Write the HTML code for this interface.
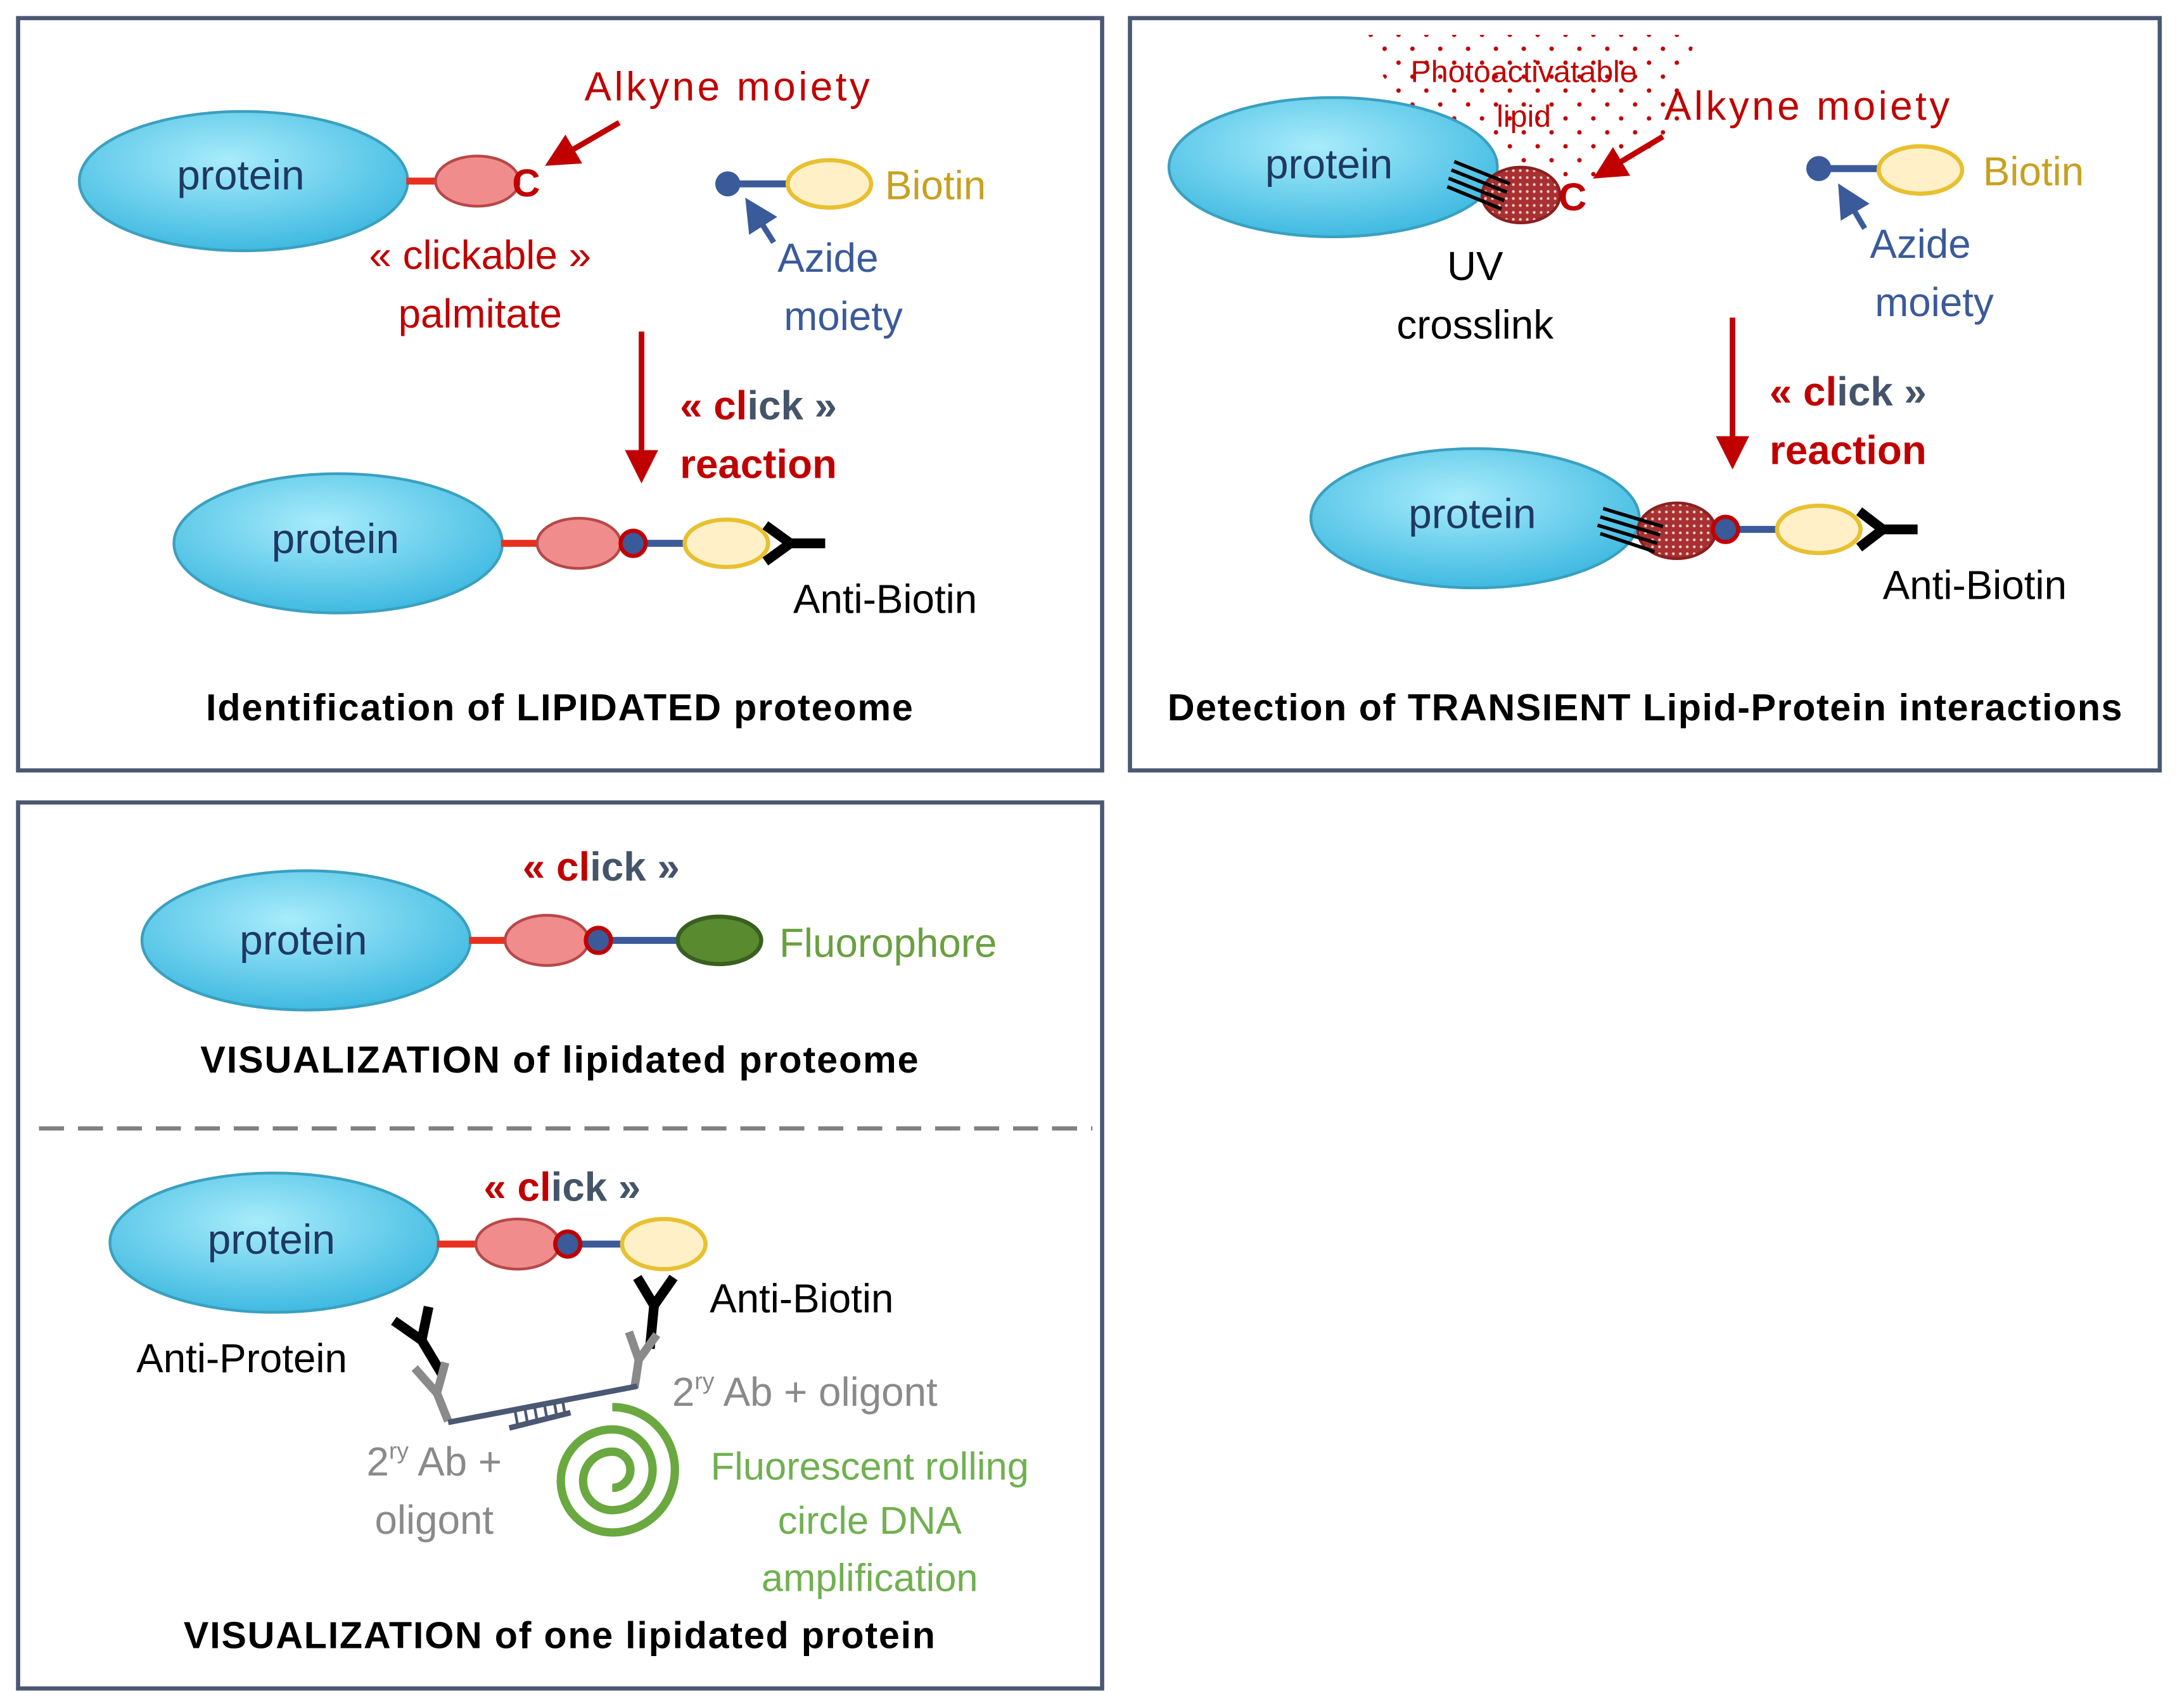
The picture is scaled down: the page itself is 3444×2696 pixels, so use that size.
<!DOCTYPE html>
<html><head><meta charset="utf-8"><style>html,body{margin:0;padding:0;background:#fff}svg{display:block}</style></head><body>
<svg width="3444" height="2696" viewBox="0 0 1568 1226" preserveAspectRatio="none" xmlns="http://www.w3.org/2000/svg" font-family="Liberation Sans, sans-serif">
<defs>
<radialGradient id="pg" cx="0.45" cy="0.35" r="0.7"><stop offset="0" stop-color="#a8ecfb"/><stop offset="1" stop-color="#38b6df"/></radialGradient>
<pattern id="dots" width="20" height="20" patternUnits="userSpaceOnUse"><circle cx="5" cy="5" r="1.6" fill="#c00000"/><circle cx="15" cy="15" r="1.6" fill="#c00000"/></pattern>
<pattern id="fine" width="5" height="5" patternUnits="userSpaceOnUse"><rect width="5" height="5" fill="#a83030"/><circle cx="2.5" cy="2.5" r="1" fill="#f4d0d0"/></pattern>
<marker id="ar" markerWidth="6" markerHeight="6" refX="3" refY="3" orient="auto"><path d="M0,0 L6,3 L0,6 Z" fill="#c00000"/></marker>
<marker id="ab" markerWidth="6" markerHeight="6" refX="3" refY="3" orient="auto"><path d="M0,0 L6,3 L0,6 Z" fill="#3a5a9a"/></marker>
</defs>
<g fill="#fff" stroke="#4b5874" stroke-width="3">
<rect x="13" y="13" width="779" height="540"/>
<rect x="812" y="13" width="740" height="540"/>
<rect x="13" y="576" width="779" height="636"/>
</g>

<!-- Panel 1 -->
<ellipse cx="175" cy="130" rx="118" ry="50" fill="url(#pg)" stroke="#3aa0c0" stroke-width="2"/>
<text x="173" y="136" font-size="30" fill="#1f3864" text-anchor="middle">protein</text>
<line x1="292" y1="130" x2="315" y2="130" stroke="#e83020" stroke-width="5"/>
<ellipse cx="343" cy="130" rx="30" ry="18" fill="#f08c8c" stroke="#b84848" stroke-width="2"/>
<text x="368" y="141" font-size="28" font-weight="bold" fill="#c00000">C</text>
<line x1="445" y1="88" x2="402" y2="113" stroke="#c00000" stroke-width="4" marker-end="url(#ar)"/>
<text x="420" y="72" font-size="29" fill="#c00000" textLength="205">Alkyne moiety</text>
<text x="345" y="193" font-size="29" fill="#c00000" text-anchor="middle">« clickable »</text>
<text x="345" y="235" font-size="29" fill="#c00000" text-anchor="middle">palmitate</text>
<line x1="523" y1="132" x2="566" y2="132" stroke="#3a5a9a" stroke-width="5"/>
<circle cx="523" cy="132" r="9" fill="#3a5a9a"/>
<ellipse cx="596" cy="132" rx="30" ry="17" fill="#fff0c8" stroke="#e8c030" stroke-width="3"/>
<text x="636" y="143" font-size="29" fill="#c8a020">Biotin</text>
<line x1="556" y1="174" x2="542" y2="152" stroke="#3a5a9a" stroke-width="4" marker-end="url(#ab)"/>
<text x="595" y="195" font-size="29" fill="#3a5a9a" text-anchor="middle">Azide</text>
<text x="606" y="237" font-size="29" fill="#3a5a9a" text-anchor="middle">moiety</text>
<line x1="461" y1="238" x2="461" y2="335" stroke="#c00000" stroke-width="4" marker-end="url(#ar)"/>
<text x="545" y="301" font-size="29" font-weight="bold" text-anchor="middle"><tspan fill="#c00000">« cl</tspan><tspan fill="#44546a">ick »</tspan></text>
<text x="545" y="343" font-size="29" font-weight="bold" fill="#c00000" text-anchor="middle">reaction</text>
<ellipse cx="243" cy="390" rx="118" ry="50" fill="url(#pg)" stroke="#3aa0c0" stroke-width="2"/>
<text x="241" y="397" font-size="30" fill="#1f3864" text-anchor="middle">protein</text>
<line x1="360" y1="390" x2="388" y2="390" stroke="#e83020" stroke-width="5"/>
<ellipse cx="416" cy="390" rx="30" ry="18" fill="#f08c8c" stroke="#b84848" stroke-width="2"/>
<line x1="455" y1="390" x2="495" y2="390" stroke="#3a5a9a" stroke-width="5"/>
<circle cx="455" cy="390" r="9" fill="#3a5a9a" stroke="#c00000" stroke-width="3"/>
<ellipse cx="522" cy="390" rx="30" ry="17" fill="#fff0c8" stroke="#e8c030" stroke-width="3"/>
<path d="M550,377 L568,390 L550,403 M568,390 L593,390" fill="none" stroke="#000" stroke-width="7"/>
<text x="570" y="440" font-size="29" fill="#000">Anti-Biotin</text>
<text x="402" y="517" font-size="27" font-weight="bold" text-anchor="middle" textLength="508">Identification of LIPIDATED proteome</text>

<!-- Panel 2 -->
<polygon points="975,25 1218,25 1205,95 1140,135 1075,120 1010,80" fill="url(#dots)"/>
<text x="1095" y="59" font-size="22" fill="#c00000" text-anchor="middle">Photoactivatable</text>
<text x="1095" y="91" font-size="22" fill="#c00000" text-anchor="middle">lipid</text>
<ellipse cx="958" cy="120" rx="118" ry="50" fill="url(#pg)" stroke="#3aa0c0" stroke-width="2"/>
<text x="955" y="128" font-size="30" fill="#1f3864" text-anchor="middle">protein</text>
<ellipse cx="1093" cy="140" rx="28" ry="20" fill="url(#fine)" stroke="#8a2020" stroke-width="2"/>
<g stroke="#000" stroke-width="2.5"><line x1="1045" y1="116" x2="1085" y2="132"/><line x1="1043" y1="122" x2="1083" y2="138"/><line x1="1041" y1="128" x2="1081" y2="144"/><line x1="1040" y1="134" x2="1079" y2="150"/></g>
<text x="1120" y="151" font-size="28" font-weight="bold" fill="#c00000">C</text>
<line x1="1195" y1="98" x2="1155" y2="122" stroke="#c00000" stroke-width="4" marker-end="url(#ar)"/>
<text x="1196" y="86" font-size="29" fill="#c00000" textLength="205">Alkyne moiety</text>
<line x1="1307" y1="121" x2="1350" y2="121" stroke="#3a5a9a" stroke-width="5"/>
<circle cx="1307" cy="121" r="9" fill="#3a5a9a"/>
<ellipse cx="1380" cy="122" rx="30" ry="17" fill="#fff0c8" stroke="#e8c030" stroke-width="3"/>
<text x="1425" y="133" font-size="29" fill="#c8a020">Biotin</text>
<line x1="1340" y1="164" x2="1327" y2="142" stroke="#3a5a9a" stroke-width="4" marker-end="url(#ab)"/>
<text x="1380" y="185" font-size="29" fill="#3a5a9a" text-anchor="middle">Azide</text>
<text x="1390" y="227" font-size="29" fill="#3a5a9a" text-anchor="middle">moiety</text>
<text x="1060" y="201" font-size="29" fill="#000" text-anchor="middle">UV</text>
<text x="1060" y="243" font-size="29" fill="#000" text-anchor="middle">crosslink</text>
<line x1="1245" y1="228" x2="1245" y2="325" stroke="#c00000" stroke-width="4" marker-end="url(#ar)"/>
<text x="1328" y="291" font-size="29" font-weight="bold" text-anchor="middle"><tspan fill="#c00000">« cl</tspan><tspan fill="#44546a">ick »</tspan></text>
<text x="1328" y="333" font-size="29" font-weight="bold" fill="#c00000" text-anchor="middle">reaction</text>
<ellipse cx="1060" cy="372" rx="118" ry="50" fill="url(#pg)" stroke="#3aa0c0" stroke-width="2"/>
<text x="1058" y="379" font-size="30" fill="#1f3864" text-anchor="middle">protein</text>
<ellipse cx="1205" cy="381" rx="28" ry="20" fill="url(#fine)" stroke="#8a2020" stroke-width="2"/>
<g stroke="#000" stroke-width="2.5"><line x1="1152" y1="365" x2="1195" y2="378"/><line x1="1150" y1="371" x2="1193" y2="384"/><line x1="1148" y1="377" x2="1191" y2="390"/><line x1="1150" y1="383" x2="1189" y2="396"/></g>
<line x1="1240" y1="380" x2="1280" y2="380" stroke="#3a5a9a" stroke-width="5"/>
<circle cx="1240" cy="380" r="9" fill="#3a5a9a" stroke="#c00000" stroke-width="3"/>
<ellipse cx="1307" cy="380" rx="30" ry="17" fill="#fff0c8" stroke="#e8c030" stroke-width="3"/>
<path d="M1336,367 L1353,380 L1336,393 M1353,380 L1378,380" fill="none" stroke="#000" stroke-width="7"/>
<text x="1353" y="430" font-size="29" fill="#000">Anti-Biotin</text>
<text x="1182" y="517" font-size="27" font-weight="bold" text-anchor="middle" textLength="686">Detection of TRANSIENT Lipid-Protein interactions</text>

<!-- Panel 3 -->
<text x="432" y="632" font-size="29" font-weight="bold" text-anchor="middle"><tspan fill="#c00000">« cl</tspan><tspan fill="#44546a">ick »</tspan></text>
<ellipse cx="220" cy="675" rx="118" ry="50" fill="url(#pg)" stroke="#3aa0c0" stroke-width="2"/>
<text x="218" y="685" font-size="30" fill="#1f3864" text-anchor="middle">protein</text>
<line x1="337" y1="675" x2="365" y2="675" stroke="#e83020" stroke-width="5"/>
<ellipse cx="393" cy="675" rx="30" ry="18" fill="#f08c8c" stroke="#b84848" stroke-width="2"/>
<line x1="430" y1="675" x2="490" y2="675" stroke="#3a5a9a" stroke-width="5"/>
<circle cx="430" cy="675" r="9" fill="#3a5a9a" stroke="#c00000" stroke-width="3"/>
<ellipse cx="517" cy="675" rx="30" ry="17" fill="#5a8a30" stroke="#3a6020" stroke-width="3"/>
<text x="560" y="687" font-size="29" fill="#6aa040">Fluorophore</text>
<text x="402" y="770" font-size="27" font-weight="bold" text-anchor="middle" textLength="516">VISUALIZATION of lipidated proteome</text>
<line x1="28" y1="810" x2="785" y2="810" stroke="#808080" stroke-width="3" stroke-dasharray="18,10"/>
<text x="404" y="862" font-size="29" font-weight="bold" text-anchor="middle"><tspan fill="#c00000">« cl</tspan><tspan fill="#44546a">ick »</tspan></text>
<ellipse cx="197" cy="892" rx="118" ry="50" fill="url(#pg)" stroke="#3aa0c0" stroke-width="2"/>
<text x="195" y="900" font-size="30" fill="#1f3864" text-anchor="middle">protein</text>
<line x1="314" y1="893" x2="342" y2="893" stroke="#e83020" stroke-width="5"/>
<ellipse cx="372" cy="893" rx="30" ry="18" fill="#f08c8c" stroke="#b84848" stroke-width="2"/>
<line x1="408" y1="893" x2="450" y2="893" stroke="#3a5a9a" stroke-width="5"/>
<circle cx="408" cy="893" r="9" fill="#3a5a9a" stroke="#c00000" stroke-width="3"/>
<ellipse cx="477" cy="893" rx="30" ry="18" fill="#fff0c8" stroke="#e8c030" stroke-width="3"/>
<path d="M458,917 L470,937 L484,917 M470,937 L467,968" fill="none" stroke="#000" stroke-width="7"/>
<text x="510" y="942" font-size="29" fill="#000">Anti-Biotin</text>
<path d="M283,948 L303,962 L308,938 M303,962 L318,987" fill="none" stroke="#000" stroke-width="7"/>
<text x="98" y="985" font-size="29" fill="#000">Anti-Protein</text>
<path d="M298,982 L314,1000 L320,978 M314,1000 L322,1020" fill="none" stroke="#8a8a8a" stroke-width="6"/>
<path d="M452,956 L459,976 L472,958 M459,976 L456,996" fill="none" stroke="#8a8a8a" stroke-width="6"/>
<line x1="322" y1="1021" x2="458" y2="995" stroke="#4b5874" stroke-width="4"/>
<line x1="366" y1="1025" x2="410" y2="1014" stroke="#4b5874" stroke-width="4"/>
<g stroke="#4b5874" stroke-width="2"><line x1="372" y1="1023" x2="370" y2="1012"/><line x1="379" y1="1021" x2="377" y2="1010"/><line x1="386" y1="1020" x2="384" y2="1009"/><line x1="393" y1="1018" x2="391" y2="1007"/><line x1="400" y1="1016" x2="398" y2="1005"/><line x1="406" y1="1015" x2="404" y2="1004"/></g>
<text x="483" y="1009" font-size="29" fill="#8a8a8a">2<tspan font-size="17" dy="-12">ry</tspan><tspan dy="12"> Ab + oligont</tspan></text>
<text x="312" y="1059" font-size="29" fill="#8a8a8a" text-anchor="middle">2<tspan font-size="17" dy="-12">ry</tspan><tspan dy="12"> Ab +</tspan></text>
<text x="312" y="1101" font-size="29" fill="#8a8a8a" text-anchor="middle">oligont</text>
<path d="M485 1055 A 45 45 0 0 1 395 1055 A 37 37 0 0 1 469 1055 A 29 29 0 0 1 411 1055 A 21 21 0 0 1 453 1055 A 13 13 0 0 1 427 1055" fill="none" stroke="#6aa840" stroke-width="6" transform="rotate(-90 440 1055)"/>
<text x="625" y="1062" font-size="28" fill="#70b050" text-anchor="middle">Fluorescent rolling</text>
<text x="625" y="1101" font-size="28" fill="#70b050" text-anchor="middle">circle DNA</text>
<text x="625" y="1142" font-size="28" fill="#70b050" text-anchor="middle">amplification</text>
<text x="402" y="1183" font-size="27" font-weight="bold" text-anchor="middle" textLength="540">VISUALIZATION of one lipidated protein</text>
</svg>
</body></html>
